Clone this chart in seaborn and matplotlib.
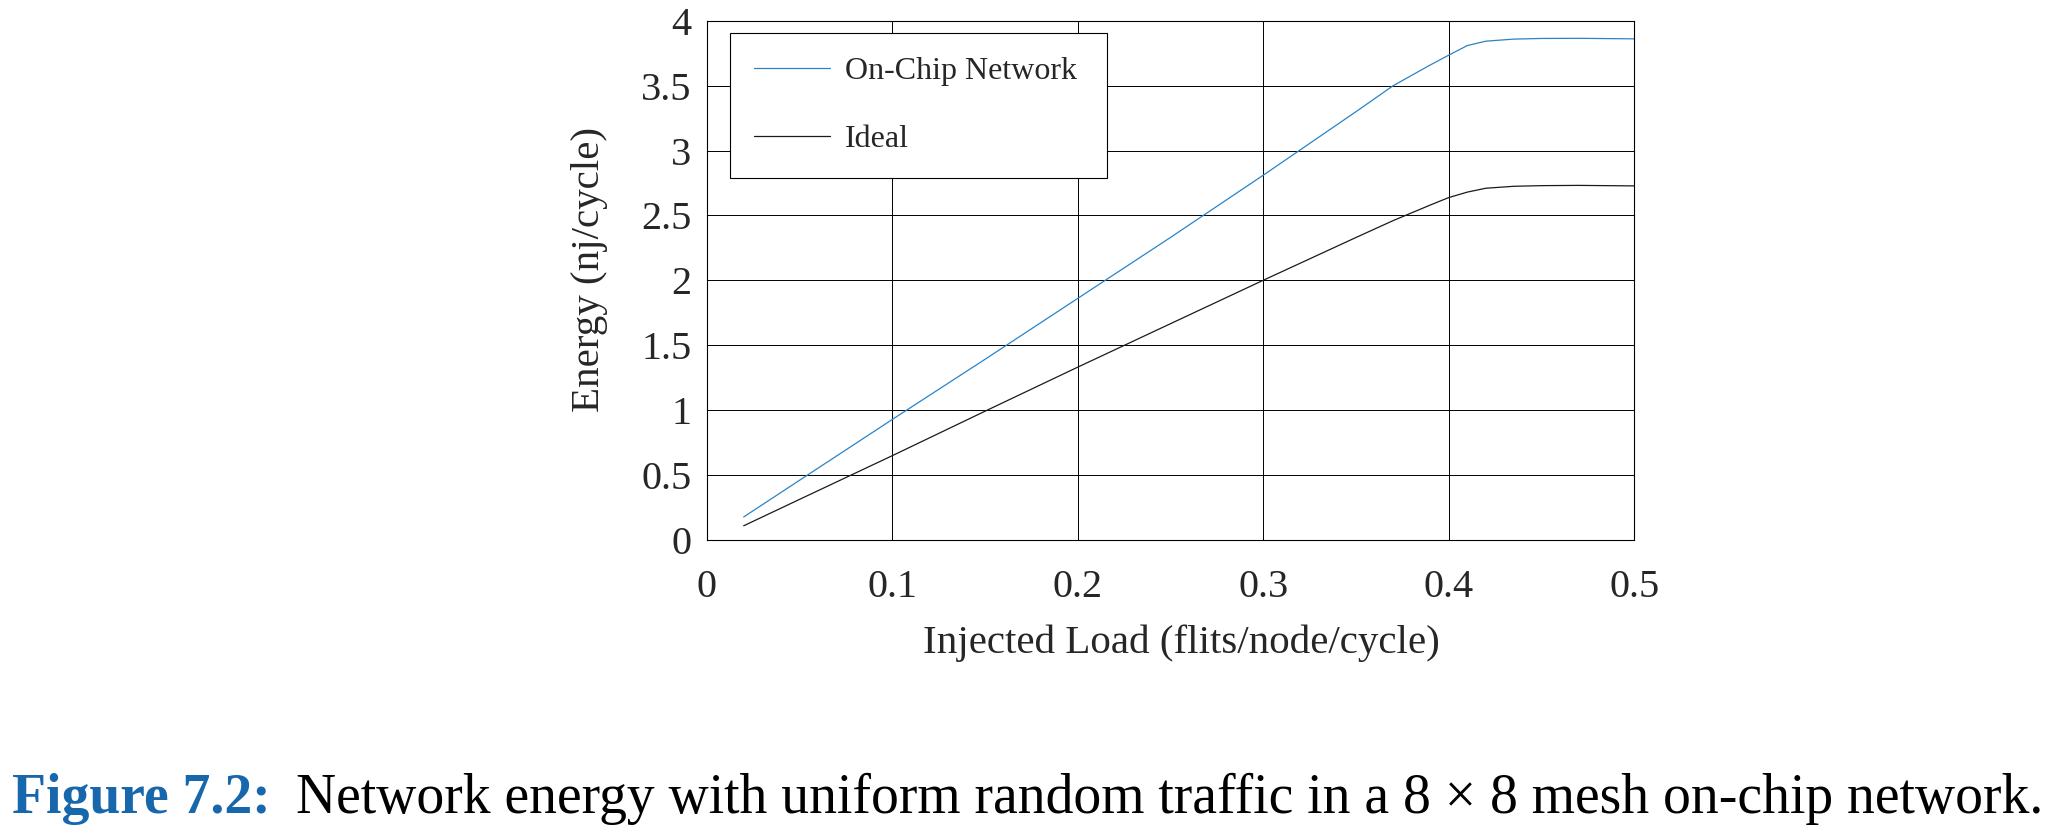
import numpy as np
import pandas as pd
import seaborn as sns
import matplotlib.pyplot as plt
from matplotlib.ticker import FuncFormatter

# --- DATA ---
load = [0.02, 0.05, 0.10, 0.15, 0.20, 0.25, 0.30, 0.35, 0.37, 0.39, 0.40,
        0.41, 0.42, 0.435, 0.45, 0.47, 0.50]
energy_network = [0.175, 0.457, 0.926, 1.39, 1.86, 2.33, 2.81, 3.30, 3.50, 3.66, 3.736,
                  3.81, 3.844, 3.86, 3.865, 3.866, 3.862]
energy_ideal = [0.107, 0.31, 0.647, 0.99, 1.33, 1.665, 2.00, 2.33, 2.46, 2.58, 2.638,
                2.68, 2.71, 2.725, 2.73, 2.732, 2.728]
series_names = ["On-Chip Network", "Ideal"]
x_ticks = [0, 0.1, 0.2, 0.3, 0.4, 0.5]
y_ticks = [0, 0.5, 1, 1.5, 2, 2.5, 3, 3.5, 4]
caption_head = "Figure 7.2:"
caption_body = "Network energy with uniform random traffic in a 8 \u00d7 8 mesh on-chip network."

df = pd.DataFrame({
    "load": load * 2,
    "energy": energy_network + energy_ideal,
    "series": [series_names[0]] * len(load) + [series_names[1]] * len(load),
})

sns.set_theme(style="white")
plt.rcParams['font.family'] = ['Liberation Serif', 'DejaVu Serif']
plt.rcParams['axes.edgecolor'] = 'black'
plt.rcParams['axes.linewidth'] = 0.8

fig = plt.figure(figsize=(20.66, 8.38), dpi=100)
ax = fig.add_axes([0.342, 0.356, 0.449, 0.619])

sns.lineplot(data=df, x="load", y="energy", hue="series",
             palette={series_names[0]: "#2b83c6", series_names[1]: "#1a1a1a"},
             linewidth=0.9, ax=ax)

ax.set_xlim(0, 0.5)
ax.set_ylim(0, 4)
ax.set_xticks(x_ticks)
ax.set_yticks(y_ticks)
fmt = FuncFormatter(lambda v, p: "%g" % v)
ax.xaxis.set_major_formatter(fmt)
ax.yaxis.set_major_formatter(fmt)
ax.grid(True, color="black", linewidth=0.7)
ax.set_axisbelow(True)
ax.tick_params(axis="x", length=0, pad=21, labelsize=29)
ax.tick_params(axis="y", length=0, pad=11, labelsize=29)

ax.set_xlabel("Injected Load (flits/node/cycle)", fontsize=29.5)
ax.set_ylabel("Energy (nj/cycle)", fontsize=29.5)
ax.xaxis.set_label_coords(0.512, -0.163)
ax.yaxis.set_label_coords(-0.106, 0.52)

leg = ax.legend(loc="upper left", bbox_to_anchor=(0.025, 0.69, 0.407, 0.287),
                mode="expand", borderaxespad=0, fontsize=23, frameon=True,
                fancybox=False, framealpha=1, edgecolor="black",
                handlelength=2.4, handletextpad=0.45,
                labelspacing=1.2, borderpad=0.75, title=None)
leg.get_frame().set_linewidth(0.8)

# caption: bold blue head followed by regular text, scaled to fit the width
fig.canvas.draw()
r = fig.canvas.get_renderer()
fs = 34
t1 = fig.text(0.006, 0.03, caption_head, fontsize=fs, fontweight="bold",
              color="#1667ac", va="baseline")
fig.canvas.draw()
bb1 = t1.get_window_extent(r)
x2 = (bb1.x1 + 0.012 * fig.bbox.width) / fig.bbox.width
t2 = fig.text(x2, 0.03, caption_body, fontsize=fs, color="black", va="baseline")
fig.canvas.draw()
bb2 = t2.get_window_extent(r)
scale = (2055 - 13) / (bb2.x1 - bb1.x0)
fs = fs * scale
t1.set_fontsize(fs)
fig.canvas.draw()
bb1 = t1.get_window_extent(r)
t2.set_fontsize(fs)
t2.set_x((bb1.x1 + 0.012 * fig.bbox.width) / fig.bbox.width)

fig.savefig("out.png", dpi=100)
